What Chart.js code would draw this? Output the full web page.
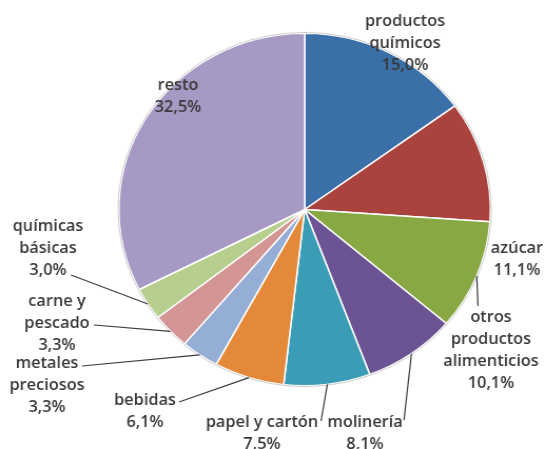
<!DOCTYPE html>
<html lang="es">
<head>
    <meta charset="UTF-8">
    <title>Distribución por sectores</title>
    <script src="https://cdn.jsdelivr.net/npm/chart.js"></script>
    <style>
        html, body {
            margin: 0;
            padding: 0;
            background: #ffffff;
            overflow: hidden;
        }
        #pie {
            display: block;
            width: 545px;
            height: 449px;
        }
    </style>
</head>
<body>
    <!-- the original picture is a bit wider than tall, so the canvas is stretched horizontally -->
    <canvas id="pie" width="517" height="449" style="width:545px;height:449px"></canvas>

    <script>
        // data
        const categories = ['productos químicos', 'azúcar', 'otros productos alimenticios', 'molinería',
            'papel y cartón', 'bebidas', 'metales preciosos', 'carne y pescado', 'químicas básicas', 'resto'];
        const labelLines = [
            ['productos', 'químicos'], ['azúcar'], ['otros', 'productos', 'alimenticios'], ['molinería'],
            ['papel y cartón'], ['bebidas'], ['metales', 'preciosos'], ['carne y', 'pescado'],
            ['químicas', 'básicas'], ['resto']
        ];
        const shares = [15.0, 11.1, 10.1, 8.1, 7.5, 6.1, 3.3, 3.3, 3.0, 32.5];
        const sliceColors = ['#3b6fa7', '#aa433d', '#88a844', '#6b5394', '#3b9cb5',
            '#e4893a', '#94aed6', '#d49694', '#b6cf8e', '#a699c3'];

        // label placement, in page pixels: centre x, centre y of first line, start of leader line
        const labelPlaces = [
            { x: 405, y: 22, lead: null },
            { x: 517, y: 249, lead: null },
            { x: 491, y: 318, lead: [478, 306] },
            { x: 365, y: 423, lead: [404, 420] },
            { x: 262, y: 423, lead: [321, 421] },
            { x: 145, y: 401, lead: [179, 402] },
            { x: 47, y: 364, lead: [82, 366] },
            { x: 57, y: 302, lead: [94, 325] },
            { x: 48, y: 227, lead: [71, 275] },
            { x: 178, y: 86, lead: null }
        ];

        const SX = 545 / 517;
        const LINE_H = 22;

        const fmtPct = v => v.toFixed(1).replace('.', ',') + '%';

        const labelPlugin = {
            id: 'sliceLabels',
            afterDatasetsDraw(chart) {
                const ctx = chart.ctx;
                const arcs = chart.getDatasetMeta(0).data;
                ctx.save();

                // faint outer rim
                const a0 = arcs[0].getProps(['x', 'y', 'outerRadius'], true);
                ctx.beginPath();
                ctx.arc(a0.x, a0.y, a0.outerRadius + 0.8, 0, Math.PI * 2);
                ctx.strokeStyle = 'rgba(170,170,170,0.6)';
                ctx.lineWidth = 1;
                ctx.stroke();

                ctx.font = '600 15.5px "Open Sans"';
                ctx.fillStyle = '#383838';
                ctx.textAlign = 'center';
                ctx.textBaseline = 'middle';

                arcs.forEach((arc, i) => {
                    const p = arc.getProps(['x', 'y', 'startAngle', 'endAngle', 'outerRadius'], true);
                    const place = labelPlaces[i];
                    const lines = labelLines[i].concat([fmtPct(shares[i])]);
                    const cx = place.x / SX;
                    lines.forEach((t, k) => {
                        ctx.fillText(t, cx, place.y + k * LINE_H);
                    });

                    if (place.lead) {
                        const mid = (p.startAngle + p.endAngle) / 2;
                        const ex = p.x + Math.cos(mid) * p.outerRadius;
                        const ey = p.y + Math.sin(mid) * p.outerRadius;
                        ctx.beginPath();
                        ctx.moveTo(place.lead[0] / SX, place.lead[1]);
                        ctx.lineTo(ex, ey);
                        ctx.strokeStyle = '#3a3a3a';
                        ctx.lineWidth = 1.2;
                        ctx.stroke();
                    }
                });
                ctx.restore();
            }
        };

        new Chart(document.getElementById('pie'), {
            type: 'pie',
            data: {
                labels: categories,
                datasets: [{
                    data: shares,
                    backgroundColor: sliceColors,
                    borderColor: '#ffffff',
                    borderWidth: 1.5
                }]
            },
            options: {
                responsive: false,
                devicePixelRatio: 1,
                animation: false,
                layout: {
                    padding: { top: 32, bottom: 62, left: 112, right: 51 }
                },
                plugins: {
                    legend: { display: false },
                    tooltip: { enabled: false }
                }
            },
            plugins: [labelPlugin]
        });
    </script>
</body>
</html>
